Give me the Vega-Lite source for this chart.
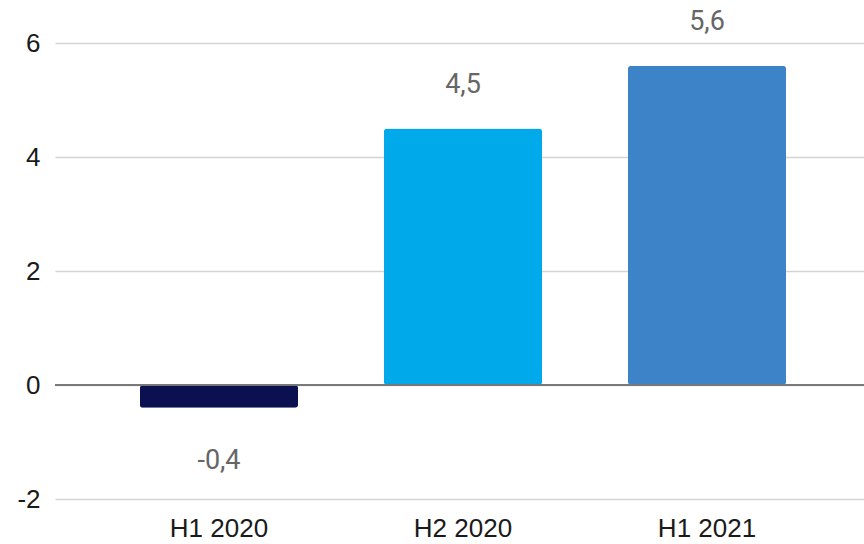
{
  "$schema": "https://vega.github.io/schema/vega-lite/v6.json",
  "autosize": "none",
  "padding": {"left": 55, "top": 43, "right": 0, "bottom": 45},
  "width": 809,
  "height": 456,
  "background": "white",
  "config": {
    "view": {"stroke": null},
    "locale": {
      "number": {"decimal": ",", "thousands": ".", "grouping": [3], "currency": ["", " €"], "minus": "-"}
    },
    "axis": {"labelFont": "Liberation Sans", "labelFontSize": 26, "labelColor": "#1a1a1a"}
  },
  "data": {
    "values": [
      {"period": "H1 2020", "value": -0.4},
      {"period": "H2 2020", "value": 4.5},
      {"period": "H1 2021", "value": 5.6}
    ]
  },
  "encoding": {
    "x": {
      "field": "period",
      "type": "nominal",
      "sort": null,
      "scale": {"range": [0, 816], "paddingInner": 0.352, "paddingOuter": 0.348},
      "axis": {"title": null, "labelAngle": 0, "domain": false, "ticks": false, "labelPadding": 16}
    }
  },
  "layer": [
    {
      "mark": {"type": "bar", "cornerRadius": 3},
      "encoding": {
        "y": {
          "field": "value",
          "type": "quantitative",
          "scale": {"domain": [-2, 6], "nice": false, "zero": false},
          "axis": {
            "title": null,
            "values": [-2, 0, 2, 4, 6],
            "format": "d",
            "domain": false,
            "ticks": false,
            "labelPadding": 15,
            "gridColor": "#d4d4d4",
            "gridWidth": 1.5
          }
        },
        "color": {
          "field": "period",
          "type": "nominal",
          "sort": null,
          "legend": null,
          "scale": {"domain": ["H1 2020", "H2 2020", "H1 2021"], "range": ["#0b1050", "#00aaea", "#3c83c8"]}
        }
      }
    },
    {
      "mark": {"type": "rule", "color": "#777777", "strokeWidth": 1.5},
      "encoding": {"y": {"datum": 0, "type": "quantitative"}, "x": null}
    },
    {
      "transform": [{"filter": "datum.value >= 0"}],
      "mark": {"type": "text", "font": "Roboto", "fontSize": 27, "color": "#666666", "baseline": "alphabetic", "dy": -36},
      "encoding": {
        "y": {"field": "value", "type": "quantitative"},
        "text": {"field": "value", "type": "quantitative", "format": ".1f"}
      }
    },
    {
      "transform": [{"filter": "datum.value < 0"}],
      "mark": {"type": "text", "font": "Roboto", "fontSize": 27, "color": "#666666", "baseline": "alphabetic", "dy": 61},
      "encoding": {
        "y": {"field": "value", "type": "quantitative"},
        "text": {"field": "value", "type": "quantitative", "format": ".1f"}
      }
    }
  ]
}
